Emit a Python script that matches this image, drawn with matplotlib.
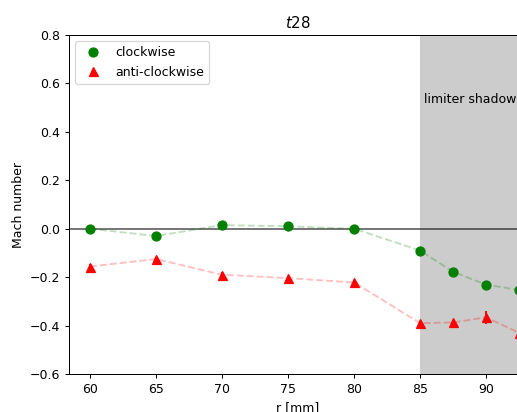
import matplotlib.pyplot as plt
import numpy as np

# radii [mm]
r = [60, 65, 70, 75, 80, 85, 87.5, 90, 92.5]

# Mach number, clockwise / anti-clockwise
m_cw = [0.0, -0.03, 0.015, 0.01, 0.0, -0.09, -0.178, -0.231, -0.253]
err_cw = [0.008, 0.008, 0.008, 0.008, 0.008, 0.008, 0.008, 0.01, 0.008]
m_acw = [-0.156, -0.125, -0.19, -0.204, -0.222, -0.39, -0.387, -0.366, -0.43]
err_acw = [0.01, 0.01, 0.01, 0.01, 0.01, 0.01, 0.01, 0.028, 0.01]

DPI = 90
fig = plt.figure(figsize=(517 / DPI, 412 / DPI), dpi=DPI)
ax = fig.add_axes([0.1335, 0.0922, 0.886, 0.8228])

ax.axvspan(85, 100, color='grey', alpha=0.4, lw=0)
ax.axhline(0, color='k', alpha=0.7, lw=1.2)

ax.plot(r, m_cw, '--', color='g', alpha=0.25)
ax.errorbar(r, m_cw, yerr=err_cw, fmt='none', ecolor='g')
ax.plot(r, m_cw, 'go', ms=7.2, label='clockwise')
ax.plot(r, m_acw, '--', color='r', alpha=0.25)
ax.errorbar(r, m_acw, yerr=err_acw, fmt='none', ecolor='r')
ax.plot(r, m_acw, 'r^', ms=7.2, label='anti-clockwise')

ax.text(85.3, 0.52, 'limiter shadow')

ax.set_xlim(58.41, 93.1)
ax.set_ylim(-0.6, 0.8)
ax.set_xticks([60, 65, 70, 75, 80, 85, 90])
ax.set_xlabel('r [mm]')
ax.set_ylabel('Mach number')
ax.set_title('$t28$')
ax.legend(loc='upper left')

plt.savefig('out.png', dpi=DPI)
